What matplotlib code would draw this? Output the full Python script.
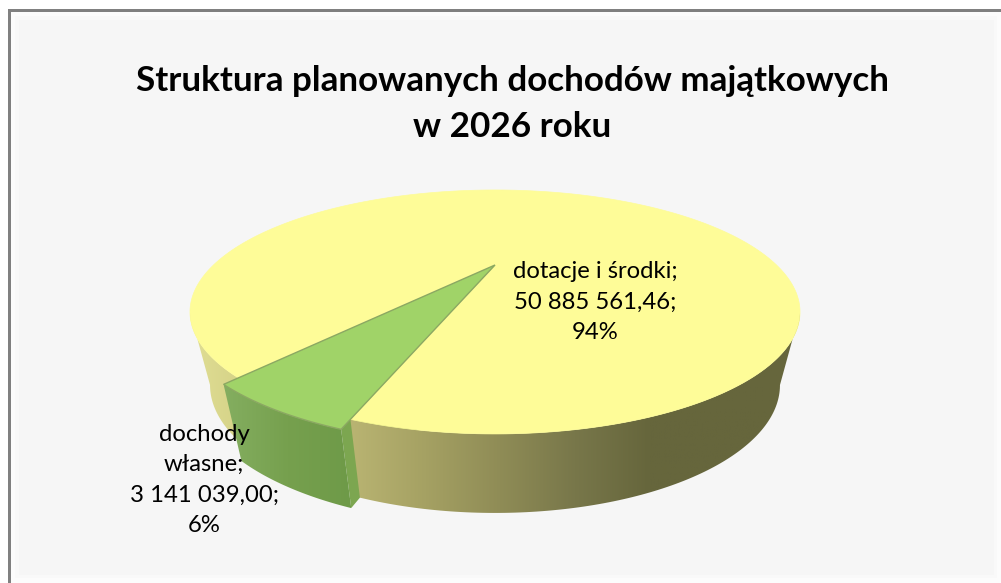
import numpy as np
import matplotlib
matplotlib.use("Agg")
import matplotlib.pyplot as plt
from matplotlib.colors import LinearSegmentedColormap
from matplotlib.patches import Polygon, Rectangle

plt.rcParams["font.family"] = ["Lato", "DejaVu Sans"]

title = "Struktura planowanych dochodów majątkowych\nw 2026 roku"
categories = ["dotacje i środki", "dochody własne"]
values = [50885561.46, 3141039.00]
labels = ["dotacje i środki;\n50 885 561,46;\n94%",
          "dochody\nwłasne;\n3 141 039,00;\n6%"]

# perspective of the pie: top face and bottom face, in pixels
k = 0.385
top = dict(cx=495, cy=265, a=281.5, b=103.9)
bot = dict(cx=495, cy=335.7, a=263, b=109)
start = 230.0  # where the small slice begins
explode = 1.04
# angle where the rim turns away from the viewer
turn = np.degrees(np.arcsin(k))

def proj(face, theta, r=1.0):
    t = np.radians(theta)
    u = r * np.cos(t)
    v = r * np.sin(t)
    d = 1 + k * v
    return np.column_stack([face["cx"] + face["a"] * u / d, face["cy"] - face["b"] * v / d])

def band(t1, t2, r=1.0):
    th = np.linspace(t1, t2, 120)
    return np.vstack([proj(top, th, r), proj(bot, th[::-1], r)])

def shaded(ax, pts, colors, zorder):
    cmap = LinearSegmentedColormap.from_list("side", colors)
    x0, x1 = pts[:, 0].min(), pts[:, 0].max()
    im = ax.imshow(np.linspace(0, 1, 256).reshape(1, -1), cmap=cmap, aspect="auto",
                   extent=(x0, x1, pts[:, 1].max(), pts[:, 1].min()), zorder=zorder)
    clip = Polygon(pts, closed=True, transform=ax.transData, fc="none", ec="none")
    ax.add_patch(clip)
    im.set_clip_path(clip)

fig = plt.figure(figsize=(10.01, 5.83), dpi=100)
ax = fig.add_axes([0, 0, 1, 1])

# frame
ax.add_patch(Rectangle((8, 9), 1100, 700, fc="#808080", ec="none", zorder=0))
ax.add_patch(Rectangle((11, 12), 1100, 700, fc="#FCFCFC", ec="none", zorder=0.1))
ax.add_patch(Rectangle((15, 16), 982, 562, fc="#F9F9F9", ec="none", zorder=0.2))
ax.add_patch(Rectangle((19, 20), 975, 555, fc="#F6F6F6", ec="none", zorder=0.3))

share = np.array(values) / sum(values)
span = share[1] * 360
end = start + span

# cut face of the small slice, the big slice covers most of it
cut = np.vstack([proj(top, np.array([end]), explode), proj(bot, np.array([end]), explode),
                 [[bot["cx"], bot["cy"]]], [[top["cx"], top["cy"]]]])
ax.add_patch(Polygon(cut, closed=True, fc="#7CA650", ec="none", zorder=1))

# big slice
side_colors = ["#B9B472", "#A5A163", "#8F8C56", "#78774A", "#66663C", "#66663C", "#66663C"]
shaded(ax, band(end, 360 - turn), side_colors, 2)
shaded(ax, band(180 + turn, start), ["#E0DE94", "#D2CF84"], 2)
th = np.linspace(end, start + 360, 400)
face = np.vstack([[[top["cx"], top["cy"]]], proj(top, th)])
ax.add_patch(Polygon(face, closed=True, fc="#FEFC98", ec="#FEFC98", lw=0.5, zorder=3))

# small slice
shaded(ax, band(start, end, explode), ["#84AE60", "#76A04E", "#6E9A48"], 4)
th = np.linspace(start, end, 40)
wedge = np.vstack([[[top["cx"], top["cy"]]], proj(top, th, explode)])
ax.add_patch(Polygon(wedge, closed=True, fc="#A0D368", ec="#8BA862", lw=1, zorder=5))

ax.text(512, 104, title, ha="center", va="center", fontsize=25.2, fontweight="bold",
        color="black", linespacing=1.52, zorder=6)
ax.text(595, 302, labels[0], ha="center", va="center", fontsize=17.2, color="black",
        linespacing=1.55, zorder=6)
ax.text(204, 480, labels[1], ha="center", va="center", fontsize=17.2, color="black",
        linespacing=1.55, zorder=6)

ax.set_xlim(0, 1001)
ax.set_ylim(583, 0)
ax.axis("off")
fig.savefig("out.png", dpi=100, facecolor="white")
